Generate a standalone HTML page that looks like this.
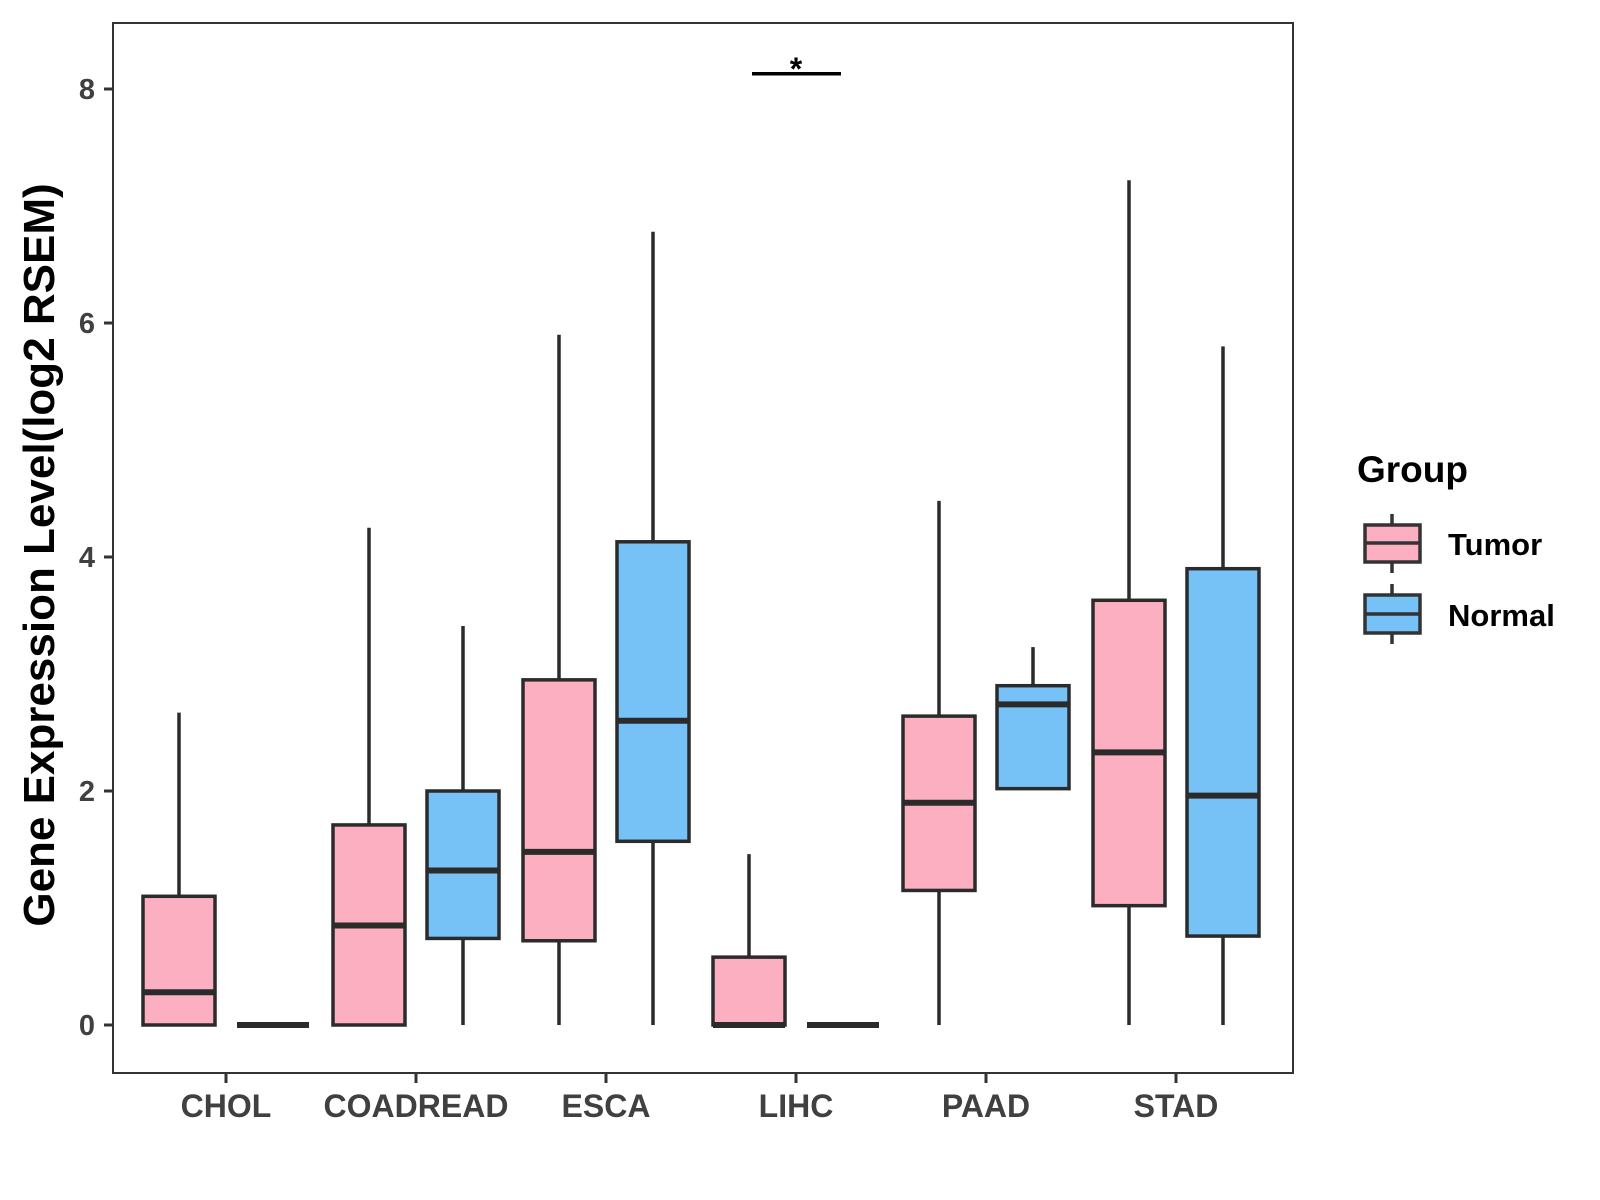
<!DOCTYPE html>
<html><head><meta charset="utf-8"><style>
body{margin:0;background:#fff}
svg{display:block;font-family:"Liberation Sans",Arial,sans-serif}
</style></head><body>
<svg id="chart" width="1600" height="1200" viewBox="0 0 1600 1200">
<rect x="0" y="0" width="1600" height="1200" fill="#fff"/>
<g id="plot"></g>
<rect x="113" y="23" width="1180" height="1050" fill="none" stroke="#333" stroke-width="2"/>
<text transform="translate(54,555) rotate(-90)" text-anchor="middle" font-size="44" font-weight="bold" fill="#000">Gene Expression Level(log2 RSEM)</text>
<g>
<text x="1357" y="482" font-size="37" font-weight="bold" fill="#000">Group</text>
<g>
<line x1="1392" y1="514" x2="1392" y2="573" stroke="#333" stroke-width="3.5"/>
<rect x="1365" y="525" width="55" height="37" fill="#FBAFC1" stroke="#333" stroke-width="3.5"/>
<line x1="1365" y1="543" x2="1420" y2="543" stroke="#333" stroke-width="3.5"/>
<text x="1448" y="555" font-size="31" font-weight="bold" fill="#000">Tumor</text>
</g>
<g>
<line x1="1392" y1="584" x2="1392" y2="644" stroke="#333" stroke-width="3.5"/>
<rect x="1365" y="595" width="55" height="38" fill="#76C2F7" stroke="#333" stroke-width="3.5"/>
<line x1="1365" y1="614" x2="1420" y2="614" stroke="#333" stroke-width="3.5"/>
<text x="1448" y="626" font-size="31" font-weight="bold" fill="#000">Normal</text>
</g>
</g>
</svg>
<script>
const categories = ["CHOL","COADREAD","ESCA","LIHC","PAAD","STAD"];
const yTicks = [0,2,4,6,8];
// [lower whisker, q1, median, q3, upper whisker]
const tumorStats = [
 [0,0,0.28,1.1,2.67],
 [0,0,0.85,1.71,4.25],
 [0,0.72,1.48,2.95,5.9],
 [0,0,0,0.58,1.46],
 [0,1.15,1.9,2.64,4.48],
 [0,1.02,2.33,3.63,7.22]
];
const normalStats = [
 [0,0,0,0,0],
 [0,0.74,1.32,2.0,3.41],
 [0,1.57,2.6,4.13,6.78],
 [0,0,0,0,0],
 [2.02,2.02,2.74,2.9,3.23],
 [0,0.76,1.96,3.9,5.8]
];
const sigCategory = "LIHC";
const sigY = 8.13;
const sigLabel = "*";

const NS="http://www.w3.org/2000/svg";
const g=document.getElementById('plot');
function y(v){return 1025-v*117;}
function xc(i){return 226+i*190;}
function mk(tag,attrs,parent){const e=document.createElementNS(NS,tag);for(const k in attrs)e.setAttribute(k,attrs[k]);(parent||g).appendChild(e);return e;}
const stroke="#2b2b2b";
yTicks.forEach(t=>{
 const l=mk('line',{x1:104,x2:113,y1:y(t),y2:y(t),stroke:'#333','stroke-width':3});
 
 
 const tx=mk('text',{x:95,y:y(t)+10,'text-anchor':'end','font-size':29,'font-weight':'bold',fill:'#404040'});
 tx.textContent=t;
 
 
});
categories.forEach((c,i)=>{
 const l=mk('line',{x1:xc(i),x2:xc(i),y1:1073,y2:1083,stroke:'#333','stroke-width':3});
 
 
 const tx=mk('text',{x:xc(i),y:1117,'text-anchor':'middle','font-size':32,'font-weight':'bold',fill:'#404040'});
 tx.textContent=c;
 
 
});
function box(s,cx,fill,name){
 const bg=mk('g',{});
 
 
 const w=72;
 mk('line',{x1:cx,x2:cx,y1:y(s[4]),y2:y(s[3]),stroke:stroke,'stroke-width':3.5},bg);
 mk('line',{x1:cx,x2:cx,y1:y(s[1]),y2:y(s[0]),stroke:stroke,'stroke-width':3.5},bg);
 mk('rect',{x:cx-w/2,y:y(s[3]),width:w,height:Math.max(0,y(s[1])-y(s[3])),fill:fill,stroke:stroke,'stroke-width':3.5},bg);
 mk('line',{x1:cx-w/2,x2:cx+w/2,y1:y(s[2]),y2:y(s[2]),stroke:stroke,'stroke-width':6},bg);
}
categories.forEach((c,i)=>{
 box(tumorStats[i],xc(i)-47,'#FBAFC1','box-tumor-'+c.toLowerCase());
 box(normalStats[i],xc(i)+47,'#76C2F7','box-normal-'+c.toLowerCase());
});
const si=categories.indexOf(sigCategory);
const sl=mk('line',{x1:xc(si)-44,x2:xc(si)+45,y1:y(sigY),y2:y(sigY),stroke:'#000','stroke-width':3.5});


const st=mk('text',{x:xc(si),y:y(sigY)+6,'text-anchor':'middle','font-size':32,'font-weight':'bold',fill:'#000'});
st.textContent=sigLabel;


</script>
</body></html>
